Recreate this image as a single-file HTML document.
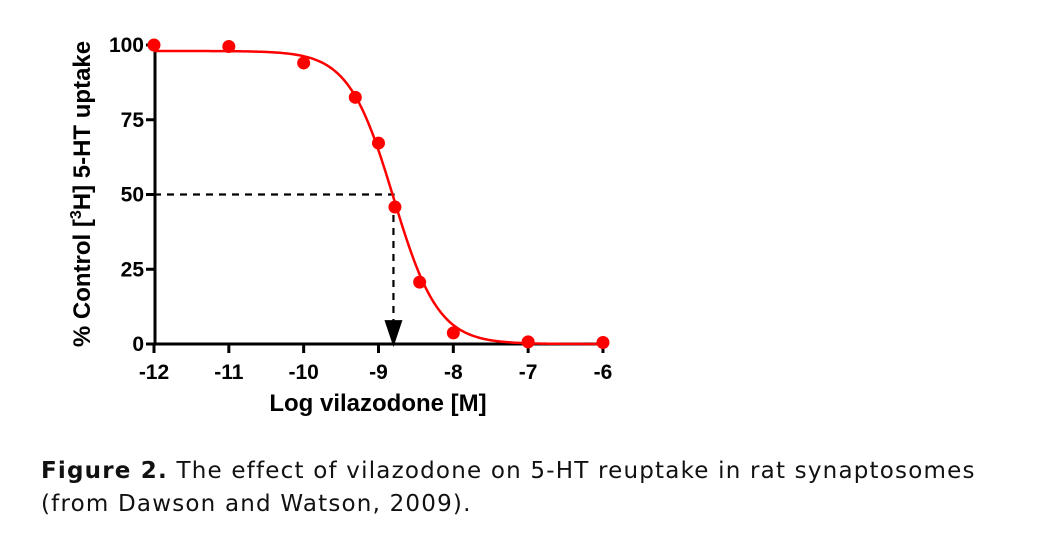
<!DOCTYPE html>
<html><head><meta charset="utf-8"><style>
body{margin:0;background:#fff;width:1062px;height:558px;overflow:hidden;position:relative}
svg{position:absolute;left:0;top:0}
.cap{position:absolute;left:41px;top:455px;font-family:"DejaVu Sans",Verdana,sans-serif;font-size:23px;letter-spacing:1.2px;line-height:33px;color:#111;width:1020px;white-space:nowrap}
</style></head><body>
<svg width="1062" height="558">
<g id="g"></g>
</svg>
<div class="cap"><b>Figure 2.</b> The effect of vilazodone on 5-HT reuptake in rat synaptosomes<br>(from Dawson and Watson, 2009).</div>
<script>
const xVals=[-12,-11,-10,-9.31,-9.0,-8.78,-8.45,-8,-7,-6];
const yVals=[100,99.5,94,82.5,67.2,45.8,20.7,3.7,0.7,0.5];
const xTicks=[-12,-11,-10,-9,-8,-7,-6];
const yTicks=[0,25,50,75,100];
const fitTop=[98];const fitBottom=[0];const fitLogIC50=[-8.8];const fitHill=[1.45];
const X=v=>154+(v+12)*74.83, Y=v=>344-v*2.99;
const NS="http://www.w3.org/2000/svg", g=document.getElementById('g');
function mk(t,a,p){const e=document.createElementNS(NS,t);for(const k in a)e.setAttribute(k,a[k]);(p||g).appendChild(e);return e;}
const F='"Liberation Sans",Arial,sans-serif';
let ax=mk('line',{x1:155,y1:43,x2:155,y2:345,stroke:'#000','stroke-width':3});

let bx=mk('line',{x1:153,y1:344,x2:605,y2:344,stroke:'#000','stroke-width':3});

yTicks.forEach(v=>{mk('line',{x1:146,x2:155,y1:Y(v),y2:Y(v),stroke:'#000','stroke-width':3});
 const t=mk('text',{x:144,y:Y(v)+7,'text-anchor':'end','font-family':F,'font-weight':'bold','font-size':21});t.textContent=v;
 });
xTicks.forEach(v=>{mk('line',{x1:X(v),x2:X(v),y1:344,y2:353,stroke:'#000','stroke-width':3});
 const t=mk('text',{x:X(v),y:379,'text-anchor':'middle','font-family':F,'font-weight':'bold','font-size':21});t.textContent=v;
 });
let xt=mk('text',{x:378,y:411,'text-anchor':'middle','font-family':F,'font-weight':'bold','font-size':24});xt.textContent='Log vilazodone [M]';

let yt=mk('text',{transform:'translate(90,194) rotate(-90)','text-anchor':'middle','font-family':F,'font-weight':'bold','font-size':24});
yt.innerHTML='% Control [<tspan dy="-9" font-size="16">3</tspan><tspan dy="9">H] 5-HT uptake</tspan>';

let d1=mk('polyline',{points:`${X(-12)},${Y(50)} ${X(fitLogIC50[0])},${Y(50)} ${X(fitLogIC50[0])},${Y(3)}`,fill:'none',stroke:'#000','stroke-width':2.2,'stroke-dasharray':'7,6'});

let ar=mk('polygon',{points:`${X(fitLogIC50[0])-9},${Y(8)} ${X(fitLogIC50[0])+9},${Y(8)} ${X(fitLogIC50[0])},${Y(-1)}`,fill:'#000'});

let pts=[];for(let x=-12;x<=-5.99;x+=0.02){const y=fitBottom[0]+(fitTop[0]-fitBottom[0])/(1+Math.pow(10,(x-fitLogIC50[0])*fitHill[0]));pts.push(X(x)+','+Y(y));}
let c=mk('polyline',{points:pts.join(' '),fill:'none',stroke:'#f00','stroke-width':2.5});

xVals.forEach((x,i)=>{const p=mk('circle',{cx:X(x),cy:Y(yVals[i]),r:6.5,fill:'#f00'});
 });
</script>
</body></html>
